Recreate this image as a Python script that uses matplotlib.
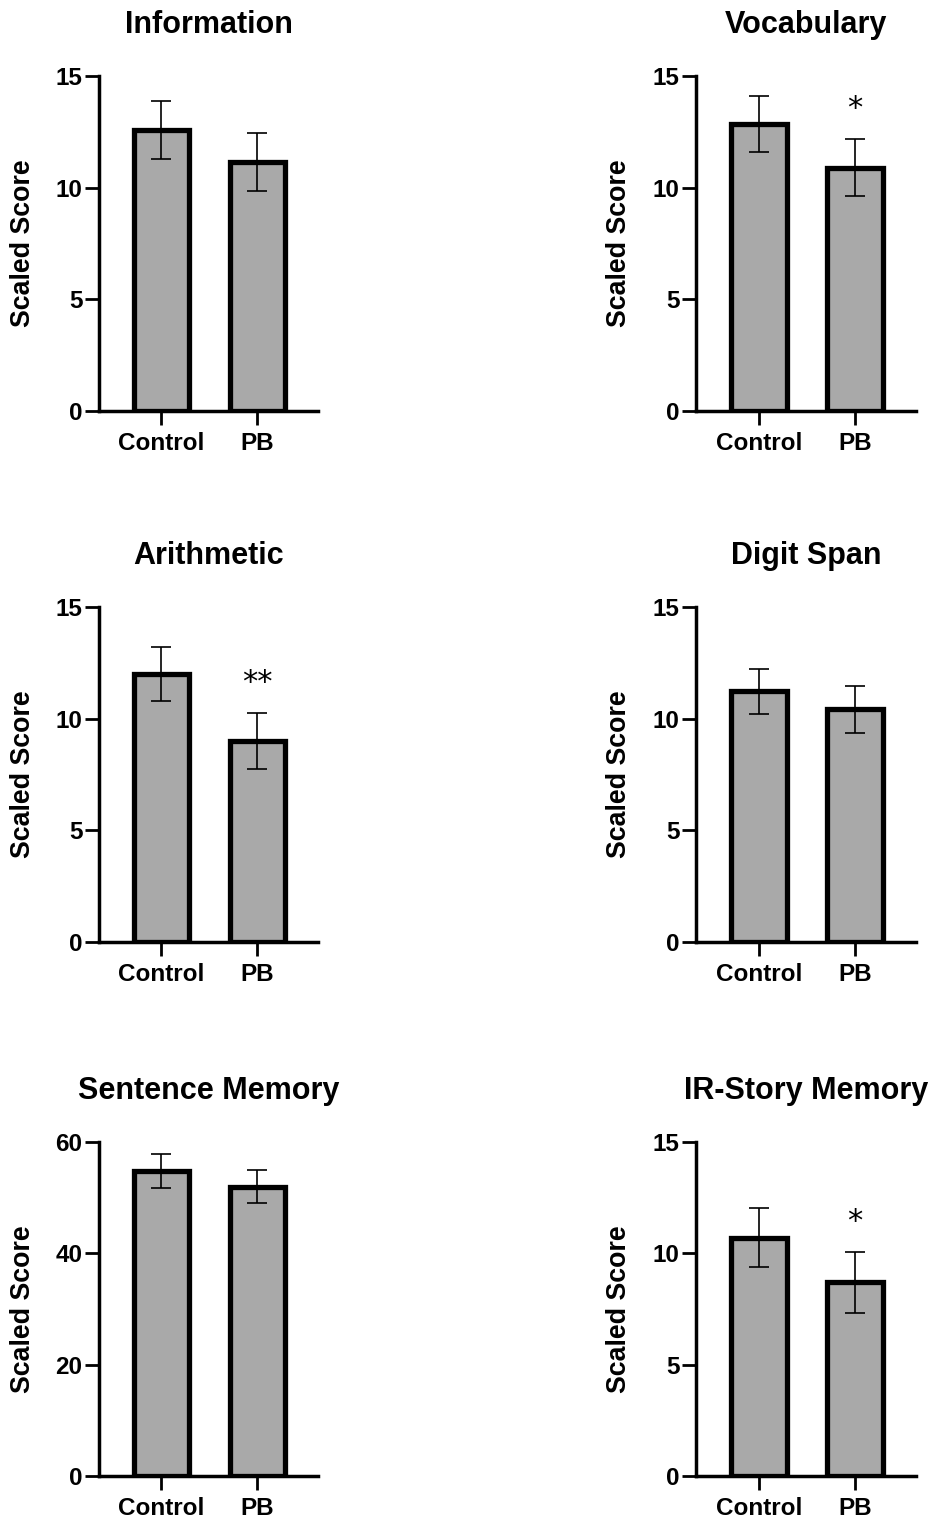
import matplotlib
matplotlib.use("Agg")
import matplotlib.pyplot as plt

plt.rcParams['font.family'] = ['Liberation Sans', 'DejaVu Sans']

groups = ["Control", "PB"]
titles = ["Information", "Vocabulary", "Arithmetic", "Digit Span",
          "Sentence Memory", "IR-Story Memory"]
means = [
    [12.6, 11.15],
    [12.85, 10.9],
    [12.0, 9.0],
    [11.22, 10.42],
    [54.8, 52.0],
    [10.7, 8.7],
]
errors = [
    [1.3, 1.32],
    [1.27, 1.29],
    [1.23, 1.26],
    [1.02, 1.05],
    [3.0, 3.0],
    [1.33, 1.38],
]
stars = ["", "*", "**", "", "", "*"]
ymax = [15, 15, 15, 15, 60, 15]
yticks = [[0, 5, 10, 15]] * 4 + [[0, 20, 40, 60], [0, 5, 10, 15]]

W, H = 934, 1519
fig = plt.figure(figsize=(W / 100, H / 100), dpi=100)

cols = [(99, 318), (696, 916)]
rows = [(76, 411), (607, 942), (1142, 1476)]

for i, title in enumerate(titles):
    r, c = divmod(i, 2)
    x0, x1 = cols[c]
    yt, yb = rows[r]
    ax = fig.add_axes([x0 / W, 1 - yb / H, (x1 - x0) / W, (yb - yt) / H])
    xs = list(range(len(groups)))
    ax.bar(xs, means[i], width=0.58, color="#a9a9a9", edgecolor="black",
           linewidth=3.8, zorder=2)
    ax.errorbar(xs, means[i], yerr=errors[i], fmt="none", ecolor="black",
                elinewidth=1.2, capsize=7.2, capthick=1.2, zorder=3)
    if stars[i]:
        ytop = means[i][1] + errors[i][1]
        ax.text(1, ytop + ymax[i] * 0.09, stars[i], ha="center", va="center",
                fontsize=22, family=['DejaVu Sans'])
    ax.set_xlim(-0.65, 1.63)
    ax.set_ylim(0, ymax[i])
    ax.set_yticks(yticks[i])
    ax.set_xticks(xs)
    ax.set_xticklabels(groups)
    for s in ["top", "right"]:
        ax.spines[s].set_visible(False)
    for s in ["left", "bottom"]:
        ax.spines[s].set_linewidth(2.5)
    ax.tick_params(axis="both", length=10, width=2, labelsize=17.5)
    ax.tick_params(axis="y", pad=2)
    ax.tick_params(axis="x", pad=5)
    for lab in ax.get_xticklabels() + ax.get_yticklabels():
        lab.set_fontweight("bold")
    ax.set_ylabel("Scaled Score", fontsize=19.3, fontweight="bold", va="center")
    ax.yaxis.set_label_coords(-0.348, 0.5)
    ax.set_title(title, fontsize=22, fontweight="bold", pad=31)

fig.savefig("out.png", dpi=100)
